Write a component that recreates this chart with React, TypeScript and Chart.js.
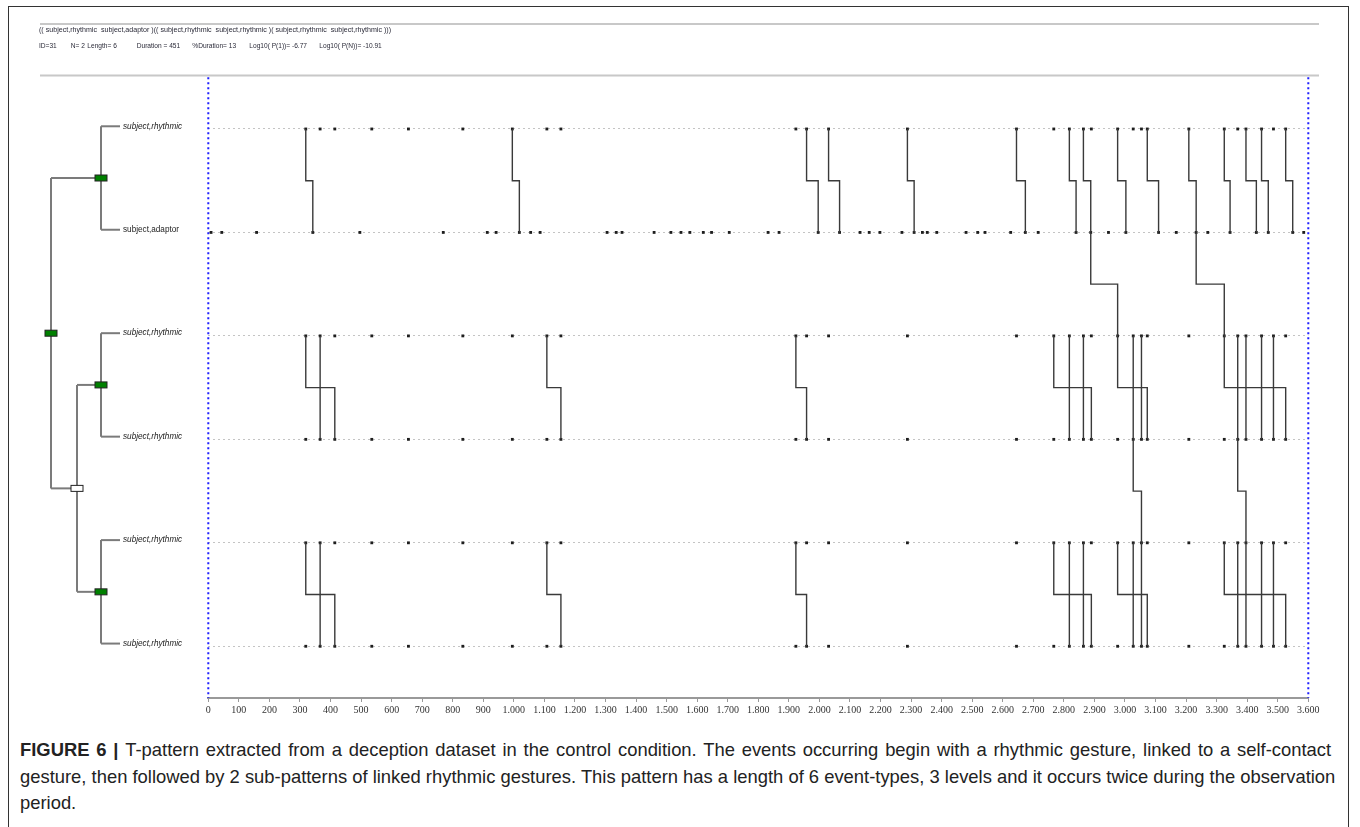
import React, { useEffect, useRef } from 'react';
import { Chart, registerables } from 'chart.js';

Chart.register(...registerables);

// ---------- data ----------
const rowLabels = ['subject,rhythmic', 'subject,adaptor', 'subject,rhythmic', 'subject,rhythmic', 'subject,rhythmic', 'subject,rhythmic'];
const rowItalic = [true, false, true, true, true, true];

const rhythmicTimes = [319, 366, 414, 535, 655, 833, 995, 1108, 1154, 1923, 1958, 2030, 2288, 2645, 2767, 2818, 2864, 2890, 2976, 3027, 3054, 3073, 3209, 3325, 3369, 3396, 3447, 3486, 3526];
const adaptorTimes = [9, 44, 158, 342, 496, 769, 913, 942, 1018, 1055, 1086, 1305, 1335, 1354, 1459, 1514, 1547, 1576, 1620, 1647, 1705, 1832, 1868, 1996, 2066, 2133, 2163, 2198, 2270, 2310, 2337, 2353, 2384, 2480, 2518, 2542, 2626, 2674, 2716, 2840, 2888, 2946, 3003, 3110, 3168, 3233, 3271, 3344, 3430, 3469, 3549, 3585];

// links: [start on upper row, end on lower row]
const linksAB = [[319, 342], [995, 1018], [1958, 1996], [2030, 2066], [2288, 2310], [2645, 2674], [2818, 2840], [2864, 2888], [2976, 3003], [3073, 3110], [3209, 3233], [3325, 3344], [3396, 3430], [3447, 3469], [3526, 3549]];
const linksFull = [[2888, 2976], [3233, 3325]];
const linksCD = [[319, 366], [366, 414], [1108, 1154], [1923, 1958], [2767, 2818], [2818, 2864], [2864, 2890], [2976, 3027], [3027, 3054], [3054, 3073], [3325, 3369], [3369, 3396], [3396, 3447], [3447, 3486], [3486, 3526]];
const linksCDEF = [[3027, 3054], [3369, 3396]];
const linksEF = [[319, 366], [366, 414], [1108, 1154], [1923, 1958], [2767, 2818], [2818, 2864], [2864, 2890], [2976, 3027], [3027, 3054], [3054, 3073], [3325, 3369], [3369, 3396], [3396, 3447], [3447, 3486], [3486, 3526]];

const headerPattern = '(( subject,rhythmic  subject,adaptor )(( subject,rhythmic  subject,rhythmic )( subject,rhythmic  subject,rhythmic )))';
const headerStats = ['ID=31', 'N= 2', 'Length= 6', 'Duration = 451', '%Duration= 13', 'Log10( P(1))= -6.77', 'Log10( P(N))= -10.91'];

const xMin = 0;
const xMax = 3600;
const xStep = 100;

const captionLines = [
  'T-pattern extracted from a deception dataset in the control condition. The events occurring begin with a rhythmic gesture, linked to a self-contact',
  'gesture, then followed by 2 sub-patterns of linked rhythmic gestures. This pattern has a length of 6 event-types, 3 levels and it occurs twice during the observation',
  'period.',
];

// ---------- helpers ----------
const rowEvents = [rhythmicTimes, adaptorTimes, rhythmicTimes, rhythmicTimes, rhythmicTimes, rhythmicTimes];
const linkLevels = [
  { from: 1, links: linksAB },
  { from: 2, links: linksFull },
  { from: 3, links: linksCD },
  { from: 4, links: linksCDEF },
  { from: 5, links: linksEF },
];

const fmtTick = (v: number) =>
  v >= 1000 ? `${Math.floor(v / 1000)}.${String(v % 1000).padStart(3, '0')}` : String(v);

type TreeNode = { x: number; box: 'green' | 'white'; kids: (number | TreeNode)[] };
const tree: TreeNode = {
  x: 51,
  box: 'green',
  kids: [
    { x: 101, box: 'green', kids: [1, 2] },
    {
      x: 77,
      box: 'white',
      kids: [
        { x: 101, box: 'green', kids: [3, 4] },
        { x: 101, box: 'green', kids: [5, 6] },
      ],
    },
  ],
};

const statX = [39, 70.7, 87.3, 136.7, 192.3, 249.3, 319.3];

const decorPlugin = {
  id: 'decor',
  afterDraw(chart: any) {
    const { ctx, scales } = chart;
    const ys = scales.y;
    const off = -2.7;
    const ry = (k: number) => ys.getPixelForValue(k) + off;
    ctx.save();
    // header rules
    ctx.strokeStyle = '#c8c8c8';
    ctx.lineWidth = 2;
    [24, 75.5].forEach((y) => {
      ctx.beginPath();
      ctx.moveTo(40, y);
      ctx.lineTo(1319, y);
      ctx.stroke();
    });
    ctx.fillStyle = '#2a2a38';
    ctx.textBaseline = 'middle';
    ctx.textAlign = 'left';
    ctx.font = '7.1px "Liberation Sans"';
    ctx.fillText(headerPattern, 39, 30);
    ctx.font = '6.6px "Liberation Sans"';
    headerStats.forEach((t, i) => ctx.fillText(t, statX[i], 46));

    // dendrogram
    const boxes: { x: number; y: number; c: string }[] = [];
    ctx.strokeStyle = '#7b7b7b';
    ctx.lineWidth = 2;
    const line = (x1: number, y1: number, x2: number, y2: number) => {
      ctx.beginPath();
      ctx.moveTo(x1, y1);
      ctx.lineTo(x2, y2);
      ctx.stroke();
    };
    const walk = (node: TreeNode): number => {
      const kys: number[] = [];
      node.kids.forEach((kid) => {
        if (typeof kid === 'number') {
          const ky = ry(kid);
          line(node.x, ky, 120, ky);
          ctx.fillStyle = '#222';
          ctx.font = `${rowItalic[kid - 1] ? 'italic ' : ''}8.2px "Liberation Sans"`;
          ctx.fillText(rowLabels[kid - 1], 123, ky);
          kys.push(ky);
        } else {
          const ky = walk(kid);
          line(node.x, ky, kid.x, ky);
          kys.push(ky);
        }
      });
      line(node.x, Math.min(...kys), node.x, Math.max(...kys));
      const ny = kys.reduce((a, b) => a + b, 0) / kys.length;
      boxes.push({ x: node.x, y: ny, c: node.box === 'green' ? '#008000' : '#ffffff' });
      return ny;
    };
    walk(tree);
    boxes.forEach((b) => {
      ctx.fillStyle = b.c;
      ctx.fillRect(b.x - 6, b.y - 3, 12, 6);
      ctx.strokeStyle = '#222';
      ctx.lineWidth = 1;
      ctx.strokeRect(b.x - 6, b.y - 3, 12, 6);
    });
    ctx.restore();
  },
};

export default function App() {
  const ref = useRef<HTMLCanvasElement>(null);
  useEffect(() => {
    if (!ref.current) return;
    const datasets: any[] = [];
    [xMin, xMax].forEach((x) =>
      datasets.push({
        data: [{ x, y: 0.5 }, { x, y: 6.5 }],
        showLine: true,
        borderColor: '#1f1fff',
        borderWidth: 2,
        borderDash: [2, 3],
        pointRadius: 0,
        clip: false,
      })
    );
    linkLevels.forEach((lvl) =>
      lvl.links.forEach(([a, b]) =>
        datasets.push({
          data: [
            { x: a, y: lvl.from },
            { x: a, y: lvl.from + 0.5 },
            { x: b, y: lvl.from + 0.5 },
            { x: b, y: lvl.from + 1 },
          ],
          showLine: true,
          borderColor: '#3a3a3a',
          borderWidth: 1.4,
          pointRadius: 0,
          tension: 0,
          clip: false,
        })
      )
    );
    rowEvents.forEach((times, i) =>
      datasets.push({
        data: times.map((x) => ({ x, y: i + 1 })),
        showLine: false,
        pointStyle: 'rect',
        pointRadius: 2,
        backgroundColor: '#1e1e1e',
        borderWidth: 0,
        clip: false,
      })
    );

    const chart = new Chart(ref.current, {
      type: 'scatter',
      data: { datasets },
      options: {
        animation: false,
        responsive: false,
        devicePixelRatio: 1,
        events: [],
        layout: { padding: { left: 208.3, right: 51.7, top: 77.25, bottom: 0 } },
        plugins: { legend: { display: false }, tooltip: { enabled: false } },
        scales: {
          x: {
            type: 'linear',
            min: xMin,
            max: xMax,
            ticks: {
              stepSize: xStep,
              autoSkip: false,
              maxRotation: 0,
              padding: 2,
              color: '#333',
              font: { family: '"Liberation Serif"', size: 10 },
              callback: (v: any) => fmtTick(Number(v)),
            },
            grid: { drawOnChartArea: false, drawTicks: true, tickLength: 4, color: '#999', lineWidth: 1 },
            border: { color: '#999', width: 2 },
            afterFit: (s: any) => {
              s.height = 24;
            },
          },
          y: {
            type: 'linear',
            min: 0.5,
            max: 6.5,
            reverse: true,
            ticks: { display: false },
            grid: { color: '#c4c4c4', lineWidth: 1, drawTicks: false },
            border: { display: false, dash: [2, 3] },
            afterFit: (s: any) => {
              s.width = 0;
            },
            afterBuildTicks: (s: any) => {
              s.ticks = rowLabels.map((_, i) => ({ value: i + 1 }));
            },
          },
        },
      },
      plugins: [decorPlugin],
    } as any);
    return () => chart.destroy();
  }, []);

  return (
    <div style={{ position: 'absolute', left: 0, top: 0, width: 1360, height: 827, overflow: 'hidden', background: '#fff' }}>
      <div
        style={{
          position: 'absolute',
          left: 8,
          top: 6,
          width: 1341,
          height: 900,
          borderLeft: '1.5px solid #333',
          borderTop: '1.5px solid #333',
          borderRight: '1.5px solid #333',
          boxSizing: 'border-box',
        }}
      />
      <canvas ref={ref} width={1360} height={722} style={{ position: 'absolute', left: 0, top: 0 }} />
      <div
        style={{
          position: 'absolute',
          left: 20,
          top: 737,
          fontFamily: '"Liberation Sans", Arial, sans-serif',
          fontSize: 18.4,
          lineHeight: '26.5px',
          color: '#222',
          whiteSpace: 'nowrap',
        }}
      >
        {captionLines.map((l, i) => (
          <div key={i} style={{ wordSpacing: i === 0 ? 1.7 : 0 }}>
            {i === 0 ? <b>FIGURE 6 | </b> : null}
            {l}
          </div>
        ))}
      </div>
    </div>
  );
}
